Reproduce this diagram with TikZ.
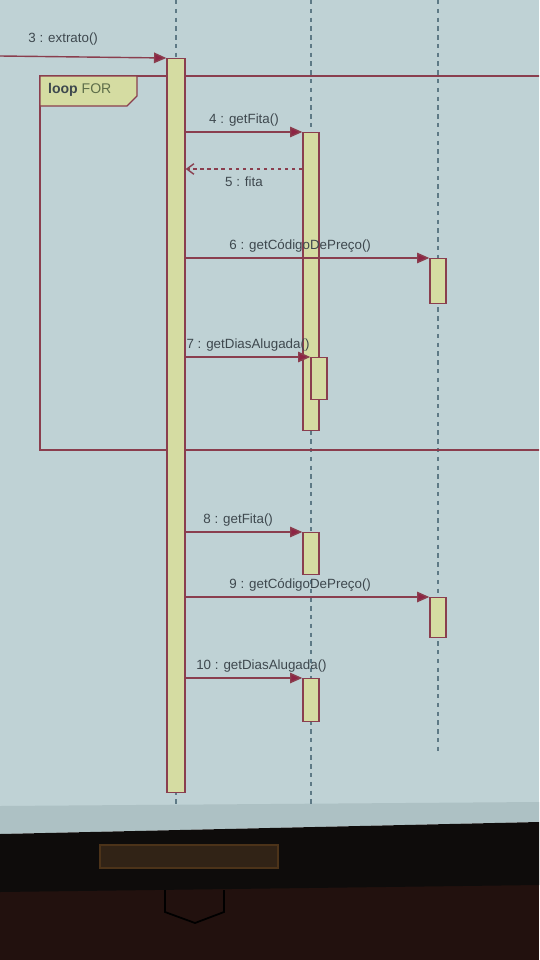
\documentclass[tikz,border=0pt]{standalone}
\usepackage{fontspec}
\setmainfont{Liberation Sans}
\usetikzlibrary{arrows.meta,positioning,shapes}

\definecolor{screen}{HTML}{BFD2D5}
\definecolor{band}{HTML}{ADC1C4}
\definecolor{bar}{HTML}{0E0C0B}
\definecolor{floor}{HTML}{22110E}
\definecolor{edge}{HTML}{8A3E4E}
\definecolor{head}{HTML}{8E2444}
\definecolor{box}{HTML}{D5DCA2}
\definecolor{ink}{HTML}{3E484E}
\definecolor{tagink}{HTML}{5E6E4A}
\definecolor{lifeln}{HTML}{5E7A86}

\begin{document}
\begin{tikzpicture}[x=0.02cm, y=-0.02cm,
  act/.style={rectangle,draw=edge,fill=box,line width=0.8pt,minimum width=0.32cm,anchor=north,inner sep=0pt},
  msg/.style={draw=edge,line width=0.8pt,-{Triangle[length=7pt,width=6pt,fill=head]}},
  ret/.style={draw=edge,line width=0.8pt,dash pattern=on 2pt off 2pt,-{Straight Barb[length=4pt,width=6pt]}},
  life/.style={draw=lifeln,line width=0.6pt,dash pattern=on 2.5pt off 2.5pt},
  lbl/.style={font=\fontsize{7.6}{8.5}\selectfont,text=ink,inner sep=1pt}]
% screen and frame below it
\fill[screen] (0,0) rectangle (539,812);
\fill[band] (0,806) -- (539,802) -- (539,822) -- (0,834) -- cycle;
\fill[floor] (0,880) rectangle (539,960);
\fill[bar] (0,834) -- (539,822) -- (539,885) -- (0,892) -- cycle;
\draw[draw=black!60!brown,line width=1pt,fill=bar!80!brown] (100,845) rectangle (278,868);
\draw[black,line width=1pt] (165,890) -- (165,912) -- (195,923) -- (224,912) -- (224,890);
\clip (0,0) rectangle (539,960);
% lifelines
\coordinate (l1t) at (176,0);
\coordinate (l1b) at (176,805);
\coordinate (l2t) at (311,0);
\coordinate (l2b) at (311,805);
\coordinate (l3t) at (438,0);
\coordinate (l3b) at (438,752);
\draw[life] (l1t) -- (l1b);
\draw[life] (l2t) -- (l2b);
\draw[life] (l3t) -- (l3b);
% loop frame
\draw[edge,line width=0.8pt] (40,76) rectangle (600,450);
\draw[edge,line width=0.8pt,fill=box] (40,76) -- (137,76) -- (137,96) -- (127,106) -- (40,106) -- cycle;
\node[lbl,anchor=west,font=\fontsize{8}{9}\selectfont] (loop) at (46,90) {\textbf{loop} \textcolor{tagink}{FOR}};
% activations
\begin{scope}
\node[act,minimum width=0.36cm,minimum height=14.68cm] (a1) at (176,58) {};
\node[act,minimum height=5.96cm] (a2) at (311,132) {};
\node[act,minimum height=0.84cm] (a2b) at (319,357) {};
\node[act,minimum height=0.9cm] (a3) at (438,258) {};
\node[act,minimum height=0.84cm] (a4) at (311,532) {};
\node[act,minimum height=0.8cm] (a5) at (438,597) {};
\node[act,minimum height=0.86cm] (a6) at (311,678) {};
\end{scope}
% messages
\coordinate (src) at (0,56);
\coordinate (m5) at (250,169);
\begin{scope}
\draw[msg] (src) -- node[lbl,above=5pt,pos=0.38]{3 : extrato()} (a1.north west);
\draw[msg] (a1.east |- a2.north west) -- node[lbl,above=2pt]{4 : getFita()} (a2.north west);
\draw[ret] (a2.west |- m5) -- node[lbl,below=3pt]{5 : fita} (a1.east |- m5);
\draw[msg] (a1.east |- a3.north west) -- node[lbl,above=2pt,pos=0.47]{6 : getCódigoDePreço()} (a3.north west);
\draw[msg] (a1.east |- a2b.north west) -- node[lbl,above=2pt]{7 : getDiasAlugada()} (a2b.north west);
\draw[msg] (a1.east |- a4.north west) -- node[lbl,above=2pt,pos=0.45]{8 : getFita()} (a4.north west);
\draw[msg] (a1.east |- a5.north west) -- node[lbl,above=2pt,pos=0.47]{9 : getCódigoDePreço()} (a5.north west);
\draw[msg] (a1.east |- a6.north west) -- node[lbl,above=2pt,pos=0.65]{10 : getDiasAlugada()} (a6.north west);
\end{scope}
\end{tikzpicture}
\end{document}
